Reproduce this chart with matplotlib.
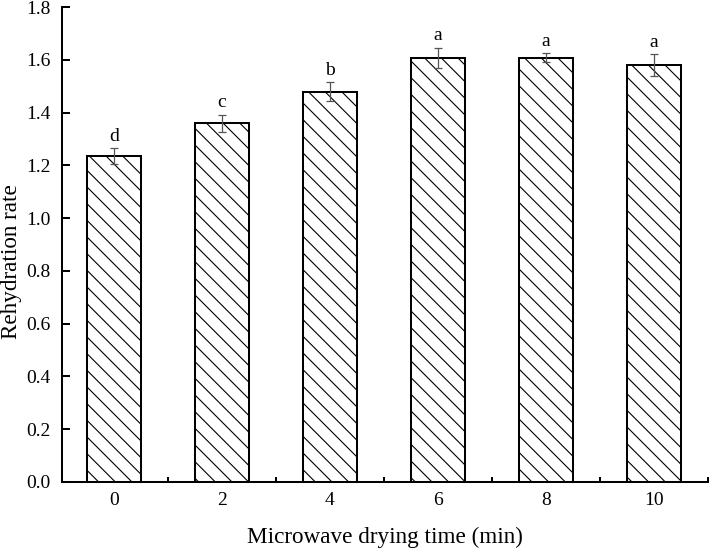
import matplotlib
matplotlib.use("Agg")
import matplotlib.pyplot as plt
from matplotlib.ticker import MultipleLocator

times = [0, 2, 4, 6, 8, 10]
tick_labels = ["0", "2", "4", "6", "8", "10"]
values = [1.235, 1.359, 1.478, 1.607, 1.607, 1.580]
errors = [0.029, 0.032, 0.036, 0.038, 0.017, 0.040]
letters = ["d", "c", "b", "a", "a", "a"]

DPI = 100
plt.rcParams['font.family'] = ['Liberation Serif', 'DejaVu Serif']
plt.rcParams['hatch.linewidth'] = 0.8
plt.rcParams['hatch.color'] = '#222222'

fig = plt.figure(figsize=(709 / DPI, 549 / DPI), dpi=DPI)
ax = fig.add_axes([62 / 709, 1 - 482 / 549, (708 - 62) / 709, (482 - 7) / 549])

ax.bar(times, values, width=1.0, color='white', edgecolor='black',
       linewidth=1.45, hatch='\\\\', zorder=2)
ax.errorbar(times, values, yerr=errors, fmt='none', ecolor='#555555',
            elinewidth=0.9, capsize=2.7, capthick=0.9, zorder=3)
for x, v, e, l in zip(times, values, errors, letters):
    ax.annotate(l, (x, v + e), xytext=(0, 2.5), textcoords='offset points',
                ha='center', va='bottom', fontsize=14)

ax.set_xlim(-0.96, 11)
ax.set_ylim(0, 1.8)
ax.set_xticks(times)
ax.set_xticklabels(tick_labels)
ax.xaxis.set_minor_locator(MultipleLocator(1))
ax.set_yticks([0.0, 0.2, 0.4, 0.6, 0.8, 1.0, 1.2, 1.4, 1.6, 1.8])
ax.set_yticklabels([f"{t:.1f}" for t in ax.get_yticks()])

for sp in ['top', 'right']:
    ax.spines[sp].set_visible(False)
for sp in ['left', 'bottom']:
    ax.spines[sp].set_linewidth(1.45)

ax.tick_params(axis='both', which='major', direction='in', length=6, width=1.45,
               labelsize=14)
ax.tick_params(axis='y', which='major', pad=8)
ax.tick_params(axis='x', which='minor', direction='in', length=3.5, width=1.45)
ax.tick_params(axis='x', which='major', pad=7)

ax.set_xlabel("Microwave drying time (min)", fontsize=16.7, labelpad=13)
ax.set_ylabel("Rehydration rate", fontsize=16.7)
ax.yaxis.set_label_coords(-0.062, 0.465)

fig.savefig("out.png", dpi=DPI)
